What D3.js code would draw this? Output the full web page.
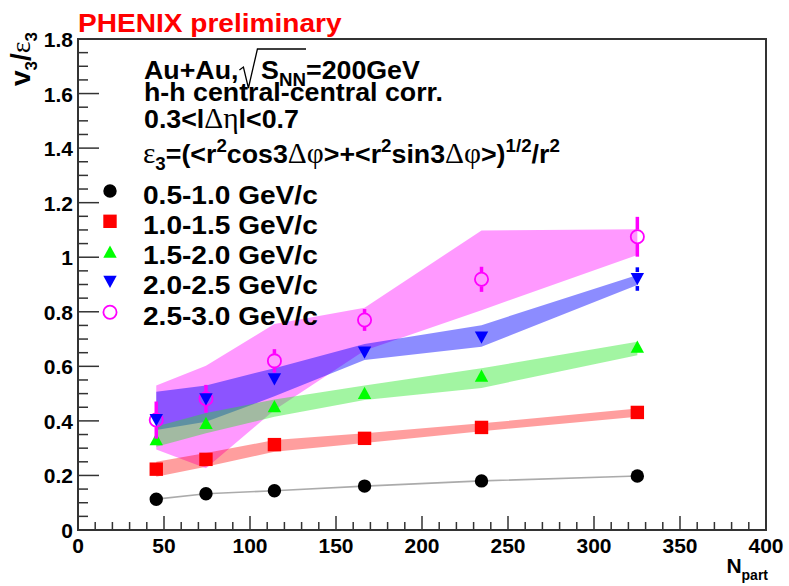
<!DOCTYPE html>
<html>
<head>
<meta charset="utf-8">
<script src="https://cdn.jsdelivr.net/npm/d3@7"></script>
<style>
  html, body { margin: 0; padding: 0; background: #fff; }
  svg { display: block; }
  text { font-family: "Liberation Sans", Arial, Helvetica, sans-serif; font-weight: bold; }
  .greek { font-family: "Liberation Serif", "Times New Roman", serif; font-weight: normal; }
</style>
</head>
<body>
<svg id="chart" width="789" height="586"></svg>
<script>
// ---- data ----
const npart = [45.5, 74.4, 114.2, 166.6, 234.6, 325.2];

const ptBins = ["0.5-1.0 GeV/c", "1.0-1.5 GeV/c", "1.5-2.0 GeV/c", "2.0-2.5 GeV/c", "2.5-3.0 GeV/c"];

// v3/eps3 per pT bin
const v3_05_10 = [0.113, 0.133, 0.144, 0.161, 0.180, 0.198];
const v3_10_15 = [0.223, 0.259, 0.313, 0.336, 0.376, 0.431];
const v3_15_20 = [0.333, 0.393, 0.454, 0.503, 0.566, 0.672];
const v3_20_25 = [0.403, 0.479, 0.552, 0.650, 0.705, 0.920];
const v3_25_30 = [0.403, 0.481, 0.620, 0.770, 0.919, 1.075];

// statistical errors
const stat_05_10 = [0.004, 0.004, 0.004, 0.004, 0.004, 0.004];
const stat_10_15 = [0.008, 0.008, 0.008, 0.008, 0.008, 0.008];
const stat_15_20 = [0.012, 0.012, 0.012, 0.012, 0.012, 0.015];
const stat_20_25 = [0.020, 0.020, 0.020, 0.020, 0.022, 0.043];
const stat_25_30 = [0.068, 0.051, 0.043, 0.040, 0.046, 0.073];

// systematic band edges
const sysLo_05_10 = [0.110, 0.130, 0.141, 0.158, 0.177, 0.195];
const sysHi_05_10 = [0.116, 0.136, 0.147, 0.164, 0.183, 0.201];
const sysLo_10_15 = [0.195, 0.232, 0.287, 0.319, 0.362, 0.415];
const sysHi_10_15 = [0.250, 0.282, 0.330, 0.355, 0.391, 0.445];
const sysLo_15_20 = [0.305, 0.355, 0.415, 0.477, 0.521, 0.641];
const sysHi_15_20 = [0.379, 0.429, 0.478, 0.530, 0.593, 0.690];
const sysLo_20_25 = [0.367, 0.397, 0.490, 0.623, 0.672, 0.898];
const sysHi_20_25 = [0.507, 0.530, 0.593, 0.682, 0.751, 0.935];
const sysLo_25_30 = [0.295, 0.226, 0.440, 0.658, 0.806, 1.008];
const sysHi_25_30 = [0.530, 0.602, 0.755, 0.815, 1.098, 1.103];

const xTickLabels = ["0", "50", "100", "150", "200", "250", "300", "350", "400"];
const yTickLabels = ["0", "0.2", "0.4", "0.6", "0.8", "1", "1.2", "1.4", "1.6", "1.8"];

// ---- styles ----
const series = [
  { name: ptBins[0], v: v3_05_10, e: stat_05_10, lo: sysLo_05_10, hi: sysHi_05_10, color: "#000000", band: "#888888", bandOpacity: 0.7, marker: "circle" },
  { name: ptBins[1], v: v3_10_15, e: stat_10_15, lo: sysLo_10_15, hi: sysHi_10_15, color: "#ff0000", band: "#ff0000", bandOpacity: 0.38, marker: "square" },
  { name: ptBins[2], v: v3_15_20, e: stat_15_20, lo: sysLo_15_20, hi: sysHi_15_20, color: "#00ff00", band: "#22e622", bandOpacity: 0.42, marker: "triUp" },
  { name: ptBins[3], v: v3_20_25, e: stat_20_25, lo: sysLo_20_25, hi: sysHi_20_25, color: "#0000ff", band: "#0000ff", bandOpacity: 0.45, marker: "triDown" },
  { name: ptBins[4], v: v3_25_30, e: stat_25_30, lo: sysLo_25_30, hi: sysHi_25_30, color: "#ff00ff", band: "#ff00ff", bandOpacity: 0.4, marker: "openCircle" }
];

const frame = { left: 78, right: 766, top: 39, bottom: 530 };
const svg = d3.select("#chart");

const x = d3.scaleLinear().domain([0, 400]).range([frame.left, frame.right]);
const y = d3.scaleLinear().domain([0, 1.8]).range([frame.bottom, frame.top]);

// ---- systematic bands ----
const bandArea = d3.area()
  .x((d, k) => x(npart[k]))
  .y0(d => y(d[0]))
  .y1(d => y(d[1]));

const bands = svg.append("g");
[4, 3, 2, 1, 0].forEach(i => {
  const s = series[i];
  bands.append("path")
    .attr("d", bandArea(s.lo.map((l, k) => [l, s.hi[k]])))
    .attr("fill", s.band)
    .attr("fill-opacity", s.bandOpacity)
    .attr("stroke", "none");
});

// ---- axes ----
const axisColor = "#333";
const axes = svg.append("g");

axes.append("rect")
  .attr("x", frame.left).attr("y", frame.top)
  .attr("width", frame.right - frame.left).attr("height", frame.bottom - frame.top)
  .attr("fill", "none").attr("stroke", axisColor).attr("stroke-width", 2);

const xMinor = d3.range(0, 401, 10);
axes.selectAll(".xt").data(xMinor).join("line")
  .attr("x1", d => x(d)).attr("x2", d => x(d))
  .attr("y1", frame.bottom)
  .attr("y2", d => frame.bottom - (d % 50 === 0 ? 14 : 8))
  .attr("stroke", axisColor).attr("stroke-width", 1.5);

axes.selectAll(".xl").data(xTickLabels).join("text")
  .attr("x", d => x(+d)).attr("y", 553)
  .attr("text-anchor", "middle")
  .attr("font-size", 21)
  .text(d => d);

const yMinor = d3.range(0, 37).map(i => i * 0.05);
axes.selectAll(".yt").data(yMinor).join("line")
  .attr("x1", frame.left)
  .attr("x2", (d, i) => frame.left + (i % 4 === 0 ? 21 : 10))
  .attr("y1", d => y(d)).attr("y2", d => y(d))
  .attr("stroke", axisColor).attr("stroke-width", 1.5);

axes.selectAll(".yl").data(yTickLabels).join("text")
  .attr("x", 73).attr("y", d => y(+d) + 8)
  .attr("text-anchor", "end")
  .attr("font-size", 21)
  .text(d => d);

// ---- markers ----
const R = 6.7;
function markerPath(type, cx, cy, r) {
  const h = r * 0.92;
  switch (type) {
    case "square": return `M${cx - r},${cy - r}H${cx + r}V${cy + r}H${cx - r}Z`;
    case "triUp": return `M${cx - r},${cy + h}L${cx + r},${cy + h}L${cx},${cy - h}Z`;
    case "triDown": return `M${cx - r},${cy - h}L${cx + r},${cy - h}L${cx},${cy + h}Z`;
    default: return `M${cx - r},${cy}A${r},${r} 0 1,0 ${cx + r},${cy}A${r},${r} 0 1,0 ${cx - r},${cy}Z`;
  }
}
function drawMarker(g, s, cx, cy) {
  const open = s.marker === "openCircle";
  g.append("path")
    .attr("d", markerPath(s.marker, cx, cy, open ? 6.6 : R))
    .attr("fill", open ? "none" : s.color)
    .attr("stroke", open ? s.color : "none")
    .attr("stroke-width", open ? 1.8 : 0);
}

const pointsG = svg.append("g");
[0, 1, 2, 4, 3].forEach(i => {
  const s = series[i];
  const g = pointsG.append("g");
  s.v.forEach((v, k) => {
    const cx = x(npart[k]), cy = y(v);
    const yt = y(v + s.e[k]), yb = y(v - s.e[k]);
    const gap = 7;
    if (cy - gap > yt) g.append("line").attr("x1", cx).attr("x2", cx).attr("y1", yt).attr("y2", cy - gap)
      .attr("stroke", s.color).attr("stroke-width", 3.5);
    if (yb > cy + gap) g.append("line").attr("x1", cx).attr("x2", cx).attr("y1", cy + gap).attr("y2", yb)
      .attr("stroke", s.color).attr("stroke-width", 3.5);
    drawMarker(g, s, cx, cy);
  });
});

// ---- text helpers ----
// pieces are laid out left to right; each piece: {t, sub, sup, greek, gap}
function richText(parent, x0, base, pieces, size, stretch) {
  const g = parent.append("g").attr("transform", `translate(${x0},${base}) scale(${stretch},1)`);
  let cx = 0;
  const pos = [];
  pieces.forEach(p => {
    let fs = size, dy = 0;
    if (p.sub) { fs = size * 0.7; dy = size * 0.28; }
    if (p.sup) { fs = size * 0.7; dy = -size * 0.42; }
    if (p.gap) { pos.push({ x: cx * stretch + x0, w: p.gap * stretch }); cx += p.gap; return; }
    const t = g.append("text").attr("x", cx).attr("y", dy)
      .attr("font-size", fs).text(p.t);
    if (p.greek) t.attr("class", "greek").attr("font-size", fs * 1.1);
    const w = t.node().getComputedTextLength();
    pos.push({ x: cx * stretch + x0, w: w * stretch });
    cx += w;
  });
  return pos;
}

const labels = svg.append("g");

labels.append("text")
  .attr("transform", "translate(78,32) scale(1.08,1)")
  .attr("font-size", 26).attr("fill", "#ff0000")
  .text("PHENIX preliminary");

const INFO = 26, STR = 1.03;
const l1 = richText(labels, 144, 79, [
  { t: "Au+Au," }, { gap: 22 }, { t: "S" }, { t: "NN", sub: true }, { t: "=200GeV" }
], INFO, STR);
{
  const rx = l1[1].x, endX = l1[3].x + l1[3].w;
  labels.append("path")
    .attr("d", `M${rx + 1},${70} L${rx + 5},${67} L${rx + 10},${88} L${rx + 19},${49} L${endX},${49}`)
    .attr("fill", "none").attr("stroke", "#000").attr("stroke-width", 1.3);
}
richText(labels, 144, 101, [{ t: "h-h central-central corr." }], INFO, STR);
richText(labels, 144, 128, [
  { t: "0.3<l" }, { t: "\u0394\u03b7", greek: true }, { t: "l<0.7" }
], INFO, STR);
richText(labels, 143, 163, [
  { t: "\u03b5", greek: true }, { t: "3", sub: true }, { t: "=(<r" }, { t: "2", sup: true },
  { t: "cos3" }, { t: "\u0394\u03c6", greek: true }, { t: ">+<r" }, { t: "2", sup: true },
  { t: "sin3" }, { t: "\u0394\u03c6", greek: true }, { t: ">)" }, { t: "1/2", sup: true },
  { t: "/r" }, { t: "2", sup: true }
], INFO, STR);

// legend
const legendTop = 191, legendStep = 30.3;
const legend = svg.append("g");
series.forEach((s, i) => {
  const cy = legendTop + i * legendStep;
  drawMarker(legend, s, 110, cy);
  legend.append("text")
    .attr("transform", `translate(143,${cy + 12.5}) scale(1.08,1)`)
    .attr("font-size", 26)
    .text(s.name);
});

// axis titles
const yTitle = labels.append("g").attr("transform", "translate(30,86) rotate(-90)");
{
  let cx = 0;
  const parts = [{ t: "v" }, { t: "3", sub: true }, { t: "/" }, { t: "\u03b5", greek: true }, { t: "3", sub: true }];
  parts.forEach(p => {
    const fs = p.sub ? 17 : 28;
    const t = yTitle.append("text").attr("x", cx).attr("y", p.sub ? 7 : 0).attr("font-size", fs).text(p.t);
    if (p.greek) t.attr("class", "greek");
    cx += t.node().getComputedTextLength();
  });
}
{
  const g = labels.append("g");
  const n = g.append("text").attr("y", 573).attr("font-size", 21).text("N");
  const sub = g.append("text").attr("y", 580).attr("font-size", 14).text("part");
  const wn = n.node().getComputedTextLength(), ws = sub.node().getComputedTextLength();
  const x0 = 768 - wn - ws;
  n.attr("x", x0); sub.attr("x", x0 + wn);
}
</script>
</body>
</html>
